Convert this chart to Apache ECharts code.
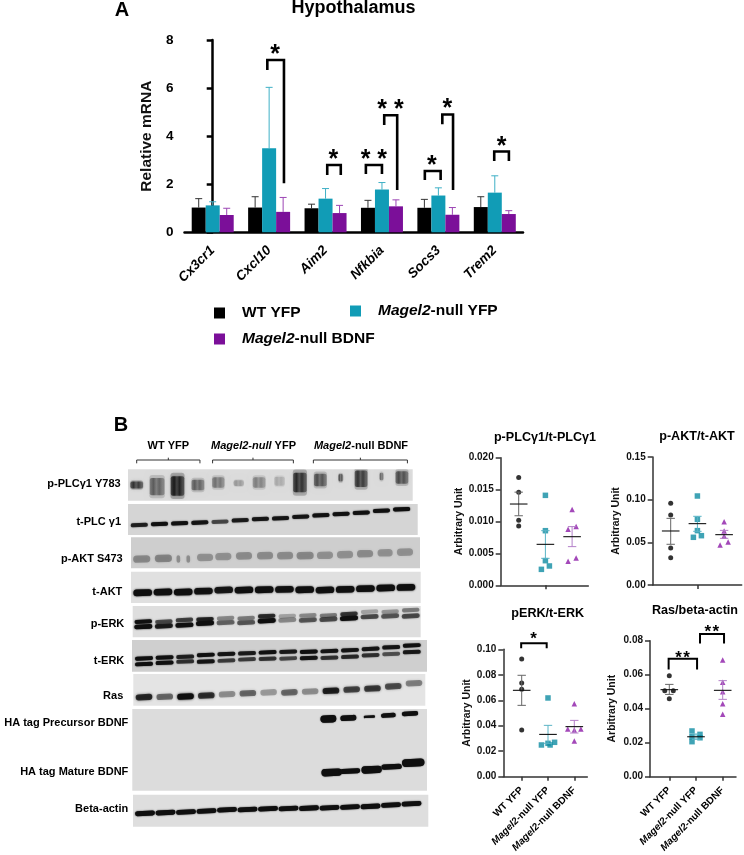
<!DOCTYPE html>
<html><head><meta charset="utf-8">
<style>html,body{margin:0;padding:0;background:#fff}#c{width:744px;height:855px}</style>
<script src="https://cdn.jsdelivr.net/npm/echarts@6/dist/echarts.min.js"></script>
</head><body><div id="c"></div>
<script>
// ---------- Panel A data ----------
const genes = ['Cx3cr1','Cxcl10','Aim2','Nfkbia','Socs3','Trem2'];
const groupNames = ['WT YFP','Magel2-null YFP','Magel2-null BDNF'];
const wtMean   = [1.03,1.03,1.00,1.02,1.02,1.05];
const yfpMean  = [1.12,3.50,1.40,1.78,1.53,1.65];
const bdnfMean = [0.72,0.85,0.80,1.08,0.73,0.76];
const wtTop    = [1.40,1.48,1.17,1.33,1.37,1.48];
const yfpTop   = [1.27,6.03,1.82,2.07,1.85,2.35];
const bdnfTop  = [1.00,1.45,1.12,1.35,1.03,0.90];
// brackets: [x left, x right, y left end, y top, y right end, star x, star y]
const sigA = [
 [0.968,1.263,6.75,7.17,2.04,1.104,7.65],
 [2.03,2.27,2.385,2.8,2.385,2.137,3.29],
 [2.715,3.0,2.43,2.8,2.43,2.857,3.29],
 [3.04,3.27,4.46,4.87,1.76,3.15,5.37],
 [3.76,4.04,2.18,2.55,2.18,3.885,3.04],
 [4.07,4.26,4.5,4.9,1.76,4.16,5.39],
 [4.99,5.25,2.97,3.36,2.97,5.12,3.84]
];
const sigAStars = ['*','*','* *','* *','*','*','*'];

// ---------- Panel B quantification data: points [group + jitter, value] ----------
const plcWt   = [[0,0.0169],[0,0.0146],[0,0.0102],[0,0.0093]];
const plcYfp  = [[1,0.0141],[1,0.00856],[1,0.00386],[1.15,0.00303],[0.85,0.0025]];
const plcBdnf = [[2,0.0119],[2.15,0.0092],[1.85,0.0088],[2.15,0.00428],[1.85,0.00376]];
const plcStats = [[0,0.01274,0.0109,0.0146],[1,0.00642,0.00423,0.00856],[2,0.00762,0.00606,0.0092]];
const aktWt   = [[0,0.0957],[0,0.082],[0,0.0434],[0,0.032]];
const aktYfp  = [[1,0.1043],[1,0.077],[1,0.0637],[1.15,0.0578],[0.85,0.0559]];
const aktBdnf = [[2,0.0742],[2,0.0633],[2,0.0574],[2.15,0.0504],[1.85,0.0469]];
const aktStats = [[0,0.0633,0.0477,0.0781],[1,0.0719,0.0629,0.0805],[2,0.059,0.0547,0.064]];
const erkWt   = [[0,0.0924],[0,0.0736],[0,0.0686],[0,0.0366]];
const erkYfp  = [[1,0.0618],[1.25,0.027],[1,0.0262],[0.75,0.0249],[1.08,0.0249]];
const erkBdnf = [[2,0.0573],[1.75,0.0374],[2.25,0.0374],[2,0.0366],[2,0.028]];
const erkStats = [[0,0.0678,0.056,0.0796],[1,0.0332,0.0262,0.0403],[2,0.0393,0.0343,0.0442]];
const rasWt   = [[0,0.0594],[-0.17,0.0506],[0.15,0.0506],[0,0.0459]];
const rasYfp  = [[0.85,0.0269],[1.15,0.0249],[0.85,0.0235],[1.15,0.0229],[0.85,0.0206]];
const rasBdnf = [[2,0.0686],[2,0.0555],[2,0.05],[2,0.0429],[2,0.0367]];
const rasStats = [[0,0.0512,0.0484,0.0543],[1,0.0235,0.022,0.0251],[2,0.0508,0.0455,0.0565]];
const sigErk = [[-0.02,0.95,0.1008,0.1047,0.1008,0.45,0.1115]];
const sigErkStars = ['*'];
const sigRas = [[-0.025,1.04,0.0631,0.0694,0.0631,0.5,0.0722],[1.15,2.05,0.0784,0.0839,0.0784,1.59,0.0877]];
const sigRasStars = ['*\u200A*','*\u200A*'];

// ---------- Western blot bands: migration position (0 top .. 1 bottom) and density per lane ----------
const lanes = [0,1,2,3,4,5,6,7,8,9,10,11,12,13];
const pPlcPos  = [.50,.55,.53,.50,.42,.44,.42,.38,.42,.34,.27,.30,.23,.26];
const pPlcThk  = [.22,.55,.62,.34,.34,.18,.34,.28,.62,.40,.24,.52,.24,.40];
const pPlcWid  = [.62,.72,.66,.62,.6,.5,.62,.5,.66,.62,.24,.62,.2,.62];
const pPlcDen  = [.72,.5,.88,.5,.42,.26,.36,.2,.78,.58,.55,.72,.45,.6];
const tPlcPos  = [.68,.645,.624,.60,.57,.527,.484,.462,.41,.366,.32,.28,.215,.17];
const tPlcDen  = [.8,.95,.95,.9,.6,.85,.9,.9,.9,.95,.95,.95,.95,1];
const pAktLane = [0,1.07,1.81,2.3,3.13,4.03,5.05,6.09,7.08,8.07,9.05,10.04,11.03,12.02,13];
const pAktPos  = [.70,.68,.70,.70,.65,.62,.60,.59,.59,.59,.58,.56,.53,.50,.48];
const pAktWid  = [.85,.85,.18,.18,.8,.8,.8,.8,.8,.85,.8,.8,.8,.75,.8];
const pAktDen  = [.32,.34,.3,.3,.28,.28,.3,.3,.3,.32,.28,.28,.3,.28,.28];
const tAktPos  = [.67,.65,.65,.62,.585,.585,.575,.565,.575,.585,.565,.54,.52,.50];
const tAktDen  = [1,1,1,.95,.9,1,1,.95,1,.95,1,1,1,1];
const pErkUp   = [.50,.50,.447,.425,.39,.39,.32,.32,.30,.30,.255,.18,.18,.13];
const pErkLow  = [.66,.64,.61,.55,.53,.53,.47,.447,.447,.425,.39,.34,.32,.32];
const pErkUpD  = [.95,.6,.65,.8,.35,.4,.75,.25,.35,.4,.7,.25,.3,.4];
const pErkLowD = [1,.85,.95,1,.5,.55,1,.35,.55,.6,1,.6,.55,.6];
const tErkUp   = [.58,.55,.53,.47,.44,.42,.39,.37,.37,.35,.32,.28,.23,.17];
const tErkLow  = [.76,.72,.68,.68,.65,.61,.59,.58,.57,.56,.53,.48,.44,.38];
const tErkUpD  = [1,.95,.8,.95,.9,.85,.95,.85,.95,.9,.9,.9,.9,.95];
const tErkLowD = [1,.95,.7,.9,.65,.65,.7,.6,.9,.7,.75,.7,.55,.85];
const rasPos   = [.73,.72,.71,.68,.64,.61,.58,.58,.55,.53,.49,.46,.39,.29];
const rasDen   = [.8,.5,1,.75,.35,.5,.3,.5,.35,.85,.65,.7,.6,.4];
const haPreLane = [8.94,9.92,10.95,11.88,12.94];
const haPrePos  = [.122,.11,.094,.078,.057];
const haPreThk  = [.09,.07,.03,.055,.055];
const haPreWid  = [.78,.78,.55,.72,.8];
const haMatLane = [9.1,10,11.06,12.04,13.1];
const haMatPos  = [.776,.76,.743,.706,.657];
const haMatThk  = [.09,.06,.09,.065,.095];
const haMatWid  = [1,1,1,1,1.1];
const actinPos  = [.583,.56,.54,.51,.47,.46,.44,.43,.42,.41,.385,.365,.32,.28];
const actinDen  = [1,1,1,1,1,1,1,1,1,1,1,1,1,1];
const blotLabels = ['p-PLCγ1 Y783','t-PLC γ1','p-AKT S473','t-AKT','p-ERK','t-ERK','Ras','HA tag Precursor BDNF','HA tag Mature BDNF','Beta-actin'];

// ---------- styling / layout ----------
const FF = '"Liberation Sans"';
const BLACK='#000', TEAL='#119cb6', PURPLE='#7b0f99';
const TEALD='#0f8ca3', PURPLED='#8c1aa8';
const ERRC=['#666666','#5ab4c6','#b37fc8'];
const grid=[], xAxis=[], yAxis=[], series=[], graphicEls=[];

function stars(api, arr, params, size){
  const v=i=>api.value(i);
  const L=api.coord([v(0),v(2)]), TL=api.coord([v(0),v(3)]), TR=api.coord([v(1),v(3)]), R=api.coord([v(1),v(4)]);
  const S=api.coord([v(5),v(6)]);
  return {type:'group',children:[
    {type:'polyline',shape:{points:[L,TL,TR,R]},style:{stroke:'#000',lineWidth:size.lw,fill:null}},
    {type:'text',x:S[0],y:S[1]+size.fs*0.27,style:{text:arr[params.dataIndex],font:'bold '+size.fs+'px '+FF,fill:'#000',align:'center',verticalAlign:'middle'}}
  ]};
}

// --- Panel A ---
grid.push({left:184.5,top:40,width:338.5,height:192.3});
xAxis.push({type:'category',gridIndex:0,data:genes,
  axisLine:{lineStyle:{color:'#000',width:2.5}},axisTick:{length:6,lineStyle:{color:'#000',width:2.5},alignWithLabel:true},
  axisLabel:{rotate:45,margin:16,interval:0,color:'#000',fontFamily:FF,fontWeight:'bold',fontStyle:'italic',fontSize:13.5}});
yAxis.push({type:'value',gridIndex:0,min:0,max:8,interval:2,name:'Relative mRNA',nameLocation:'middle',nameGap:30,
  nameTextStyle:{fontFamily:FF,fontSize:15.5,fontWeight:'bold',color:'#111'},splitLine:{show:false},
  axisLine:{show:true,lineStyle:{color:'#000',width:2.5}},axisTick:{show:true,length:6,lineStyle:{color:'#000',width:2.5}},
  axisLabel:{margin:11,color:'#000',fontFamily:FF,fontWeight:'bold',fontSize:13.5}});
const barSets=[[wtMean,wtTop,BLACK],[yfpMean,yfpTop,TEAL],[bdnfMean,bdnfTop,PURPLE]];
barSets.forEach((s,k)=>{
  series.push({name:groupNames[k],type:'bar',xAxisIndex:0,yAxisIndex:0,data:s[0],barWidth:14,barGap:0,itemStyle:{color:s[2]}});
});
const ERRBAR=['#333','#3fb0c6','#9c45b4'];
barSets.forEach((s,k)=>{
  series.push({name:'err '+k,type:'custom',xAxisIndex:0,yAxisIndex:0,z:1,
    data:s[0].map((m,i)=>[i,m,s[1][i]]),
    renderItem:(p,api)=>{
      const a=api.coord([api.value(0),api.value(1)]),b=api.coord([api.value(0),api.value(2)]);
      const x=a[0]+(k-1)*14;
      return {type:'group',children:[
        {type:'line',shape:{x1:x,y1:a[1],x2:x,y2:b[1]},style:{stroke:ERRBAR[k],lineWidth:1}},
        {type:'line',shape:{x1:x-3.5,y1:b[1],x2:x+3.5,y2:b[1]},style:{stroke:ERRBAR[k],lineWidth:1}}]};
    }});
});

// --- Panel B scatter panels ---
const italicRich={i:{fontStyle:'italic',fontFamily:FF,fontWeight:'bold',fontSize:10,color:'#000'},n:{fontFamily:FF,fontWeight:'bold',fontSize:10,color:'#000'}};
const groupFmt=['{n|WT YFP}','{i|Magel2}{n|-null YFP}','{i|Magel2}{n|-null BDNF}'];
const scatterPanels=[
 {l:500.7,t:457.7,w:87.6,h:127.6,x0:18,sp:26.7,max:0.02,step:0.005,d:3,pts:[plcWt,plcYfp,plcBdnf],st:plcStats,labels:false,gap:40},
 {l:652.7,t:457,w:89,h:128,x0:18,sp:26.7,max:0.15,step:0.05,d:2,pts:[aktWt,aktYfp,aktBdnf],st:aktStats,labels:false,gap:36},
 {l:503.3,t:649.3,w:84,h:127.4,x0:18.4,sp:26.3,max:0.1,step:0.02,d:2,pts:[erkWt,erkYfp,erkBdnf],st:erkStats,labels:true,gap:36,sig:sigErk,sigS:sigErkStars},
 {l:650,t:640.7,w:86,h:136,x0:19.3,sp:26.7,max:0.08,step:0.02,d:2,pts:[rasWt,rasYfp,rasBdnf],st:rasStats,labels:true,gap:37,sig:sigRas,sigS:sigRasStars}
];
const SYM=['circle','rect','triangle'],SCOL=[BLACK,TEALD,PURPLED];
scatterPanels.forEach(P=>{
  const gi=grid.length;
  grid.push({left:P.l,top:P.t,width:P.w,height:P.h});
  const ticks=P.labels?[0,1,2]:[1];
  xAxis.push({type:'value',gridIndex:gi,min:-P.x0/P.sp,max:(P.w-P.x0)/P.sp,splitLine:{show:false},
    axisLine:{onZero:false,lineStyle:{color:'#333',width:1.5}},
    axisTick:{show:true,length:4,lineStyle:{color:'#333',width:1.5},customValues:ticks},
    axisLabel:P.labels?{show:true,rotate:45,margin:12,customValues:[0,1,2],formatter:v=>groupFmt[Math.round(v)],rich:italicRich,fontFamily:FF,fontSize:10}:{show:false}});
  yAxis.push({type:'value',gridIndex:gi,min:0,max:P.max,interval:P.step,name:'Arbitrary Unit',nameLocation:'middle',nameGap:P.gap-5,
    nameTextStyle:{fontFamily:FF,fontWeight:'bold',fontSize:10.5,color:'#111'},splitLine:{show:false},
    axisLine:{show:true,onZero:false,lineStyle:{color:'#333',width:1.5}},axisTick:{show:true,length:5,lineStyle:{color:'#333',width:1.5}},
    axisLabel:{margin:7,color:'#111',fontFamily:FF,fontWeight:'bold',fontSize:10,formatter:v=>v.toFixed(P.d)}});
  P.pts.forEach((pts,k)=>{
    series.push({name:'pts '+gi+k,type:'scatter',xAxisIndex:gi,yAxisIndex:gi,data:pts,symbol:SYM[k],symbolSize:k===0?5:5.5,itemStyle:{color:SCOL[k]},z:3});
  });
  series.push({name:'stats '+gi,type:'custom',xAxisIndex:gi,yAxisIndex:gi,z:4,data:P.st,
    renderItem:(p,api)=>{
      const k=p.dataIndex,m=api.coord([api.value(0),api.value(1)]),lo=api.coord([api.value(0),api.value(2)]),hi=api.coord([api.value(0),api.value(3)]);
      const c=ERRC[k],x=m[0];
      const ln=(x1,y1,x2,y2,col,w)=>({type:'line',shape:{x1,y1,x2,y2},style:{stroke:col,lineWidth:w}});
      return {type:'group',children:[ln(x,lo[1],x,hi[1],c,1),ln(x-4.2,lo[1],x+4.2,lo[1],c,1),ln(x-4.2,hi[1],x+4.2,hi[1],c,1),ln(x-8.8,m[1],x+8.8,m[1],'#111',1.1)]};
    }});
  if(P.sig){
    series.push({name:'sig '+gi,type:'custom',xAxisIndex:gi,yAxisIndex:gi,z:5,clip:false,data:P.sig,
      renderItem:(p,api)=>stars(api,P.sigS,p,{lw:2,fs:17})});
  }
});

// --- Western blot panels: each membrane is its own grid, lanes on x, migration on y ---
function band(lane,pos,wid,thk,den){return [lane,pos,wid,thk,den];}
const row=(pos,den,wid,thk)=>pos.map((p,i)=>band(lanes[i],p,wid,thk,den[i]));
const blots=[
 {l:128,t:469.3,w:284.7,h:31.4,bg:'#dcdcdc',x0:136.7,sp:20.4,blur:4,tilt:0,smear:true,bands:pPlcPos.map((p,i)=>band(lanes[i],p,pPlcWid[i],pPlcThk[i],pPlcDen[i]))},
 {l:128,t:504,w:289.7,h:31,bg:'#d5d5d5',x0:139.3,sp:20.18,blur:1.5,tilt:.04,bands:row(tPlcPos,tPlcDen,.85,.13)},
 {l:131,t:537.3,w:289,h:31,bg:'#cecece',x0:141.7,sp:20.25,blur:3,tilt:.02,bands:pAktPos.map((p,i)=>band(pAktLane[i],p,pAktWid[i],.24,pAktDen[i]))},
 {l:131,t:571.7,w:289.7,h:31.3,bg:'#e0e0e0',x0:142.7,sp:20.25,blur:2,tilt:.03,bands:row(tAktPos,tAktDen,.92,.21)},
 {l:132.7,t:606,w:288,h:31.3,bg:'#dedede',x0:143.3,sp:20.57,blur:1.8,tilt:.05,bands:row(pErkUp,pErkUpD,.85,.13).concat(row(pErkLow,pErkLowD,.88,.15))},
 {l:132,t:640,w:295,h:31.7,bg:'#cfcfcf',x0:144,sp:20.6,blur:1.5,tilt:.04,bands:row(tErkUp,tErkUpD,.87,.125).concat(row(tErkLow,tErkLowD,.87,.125))},
 {l:133.3,t:674,w:292,h:31.7,bg:'#e4e4e4',x0:144,sp:20.77,blur:2.5,tilt:.05,bands:row(rasPos,rasDen,.8,.19)},
 {l:132.3,t:709,w:294.7,h:81.7,bg:'#dcdcdc',x0:146,sp:20.4,blur:1.2,tilt:.05,bands:haPrePos.map((p,i)=>band(haPreLane[i],p,haPreWid[i],haPreThk[i],1)).concat(haMatPos.map((p,i)=>band(haMatLane[i],p,haMatWid[i],haMatThk[i],1)))},
 {l:133,t:794.7,w:295.3,h:32,bg:'#dedede',x0:145,sp:20.5,blur:1.5,tilt:.05,bands:row(actinPos,actinDen,.97,.15)}
];
let firstBlotGrid=null;
const ink=a=>'rgba(15,15,15,'+a+')';
blots.forEach(B=>{
  const gi=grid.length; if(firstBlotGrid===null)firstBlotGrid=gi;
  grid.push({left:B.l,top:B.t,width:B.w,height:B.h,show:true,backgroundColor:B.bg,borderWidth:0});
  xAxis.push({type:'value',gridIndex:gi,show:false,min:(B.l-B.x0)/B.sp,max:(B.l+B.w-B.x0)/B.sp,splitLine:{show:false}});
  yAxis.push({type:'value',gridIndex:gi,show:false,min:0,max:1,inverse:true,splitLine:{show:false}});
  series.push({name:'blot '+gi,type:'custom',xAxisIndex:gi,yAxisIndex:gi,clip:true,data:B.bands,
    renderItem:(p,api)=>{
      const c=api.coord([api.value(0),api.value(1)]),s=api.size([api.value(2),api.value(3)]);
      const d=api.value(4);
      if(!B.smear){
        return {type:'rect',x:c[0],y:c[1],rotation:B.tilt,originX:0,originY:0,
          shape:{x:-s[0]/2,y:-s[1]/2,width:s[0],height:s[1],r:s[1]/2},style:{fill:ink(d),shadowBlur:B.blur,shadowColor:ink(d)}};
      }
      // smeared phospho signal: soft halo with a streaky core
      const hW=s[0]*1.05,hH=s[1]*1.35;
      const core=new echarts.graphic.LinearGradient(0,0,1,0,[
        {offset:0,color:ink(d*.65)},{offset:.25,color:ink(d)},{offset:.45,color:ink(d*.6)},
        {offset:.65,color:ink(d*.9)},{offset:.85,color:ink(d*.6)},{offset:1,color:ink(d*.55)}]);
      return {type:'group',children:[
        {type:'rect',shape:{x:c[0]-hW/2,y:c[1]-hH/2,width:hW,height:hH,r:3},style:{fill:ink(d*.28),shadowBlur:5,shadowColor:ink(d*.35)}},
        {type:'rect',shape:{x:c[0]-s[0]/2,y:c[1]-s[1]/2,width:s[0],height:s[1],r:2},style:{fill:core,shadowBlur:3,shadowColor:ink(d*.4)}}]};
    }});
});
// group brackets above the first membrane (lane units on its axes)
const laneBrackets=[[0,3.1],[3.72,7.68],[8.66,13.27]];
series.push({name:'lane brackets',type:'custom',xAxisIndex:firstBlotGrid,yAxisIndex:firstBlotGrid,clip:false,data:laneBrackets,
  renderItem:(p,api)=>{
    const a=api.value(0),b=api.value(1),m=(a+b)/2;
    const P=(x,y)=>api.coord([x,y]);
    return {type:'group',children:[
      {type:'polyline',shape:{points:[P(a,-0.19),P(a,-0.296),P(b,-0.296),P(b,-0.19)]},style:{stroke:'#333',lineWidth:1,fill:null}},
      {type:'line',shape:{x1:P(m,0)[0],y1:P(m,-0.296)[1],x2:P(m,0)[0],y2:P(m,-0.37)[1]},style:{stroke:'#333',lineWidth:1}}]};
  }});

// --- hidden lane-unit x axis over panel A for significance brackets ---
const sigAxis=xAxis.length;
xAxis.push({type:'value',gridIndex:0,show:false,min:-0.5,max:5.5,splitLine:{show:false}});
series.push({name:'sig A',type:'custom',xAxisIndex:sigAxis,yAxisIndex:0,z:5,clip:false,data:sigA,
  renderItem:(p,api)=>stars(api,sigAStars,p,{lw:2.6,fs:25})});

// --- free text ---
const T=(text,x,y,font,align,extra)=>graphicEls.push({type:'text',x,y,silent:true,style:Object.assign({text,font:font+' '+FF,fill:'#000',align:align||'center',verticalAlign:'middle'},extra||{})});
T('A',122,10,'bold 20px');
T('Hypothalamus',353.5,8.5,'bold 18px');
T('B',121,425,'bold 20px');
T('p-PLCγ1/t-PLCγ1',545,437.7,'bold 12.6px');
T('p-AKT/t-AKT',697,436.7,'bold 12.6px');
T('pERK/t-ERK',547.7,614,'bold 12.6px');
T('Ras/beta-actin',695,611,'bold 12.6px');
const blotLabelPos=[[120.7,484],[121,521.7],[122.7,559],[122.3,591.7],[124.3,624.3],[124.3,660.7],[123.3,696],[128.3,722.7],[128.3,771.7],[128.3,809]];
blotLabels.forEach((s,i)=>T(s,blotLabelPos[i][0],blotLabelPos[i][1],'bold 11px','right'));
const grpRich={i:{font:'italic bold 11px '+FF,fill:'#000'},n:{font:'bold 11px '+FF,fill:'#000'}};
T('{n|WT YFP}',168.3,446,'bold 11px','center',{rich:grpRich});
T('{i|Magel2-null} {n|YFP}',253.5,446,'bold 11px','center',{rich:grpRich});
T('{i|Magel2}{n|-null BDNF}',361,446,'bold 11px','center',{rich:grpRich});

// --- legends for panel A ---
const legendRich={g:{width:12},i:{fontFamily:FF,fontStyle:'italic',fontWeight:'bold',fontSize:15.5,color:'#000'},n:{fontFamily:FF,fontWeight:'bold',fontSize:15.5,color:'#000'}};
const legendFmt=['{g|}{n|WT YFP}','{g|}{i|Magel2}{n|-null YFP}','{g|}{i|Magel2}{n|-null BDNF}'];
const legendPos=[[214,305],[350,303],[214,331]];
const legend=groupNames.map((n,i)=>({data:[n],left:legendPos[i][0],top:legendPos[i][1],icon:'rect',itemWidth:11,itemHeight:11,padding:0,selectedMode:false,
  formatter:()=>legendFmt[i],textStyle:{rich:legendRich,fontFamily:FF}}));

const chart=echarts.init(document.getElementById('c'),null,{renderer:'canvas'});
chart.setOption({animation:false,backgroundColor:'#fff',textStyle:{fontFamily:FF},tooltip:{show:false},grid,xAxis,yAxis,series,legend,graphic:{elements:graphicEls}});
</script></body></html>
